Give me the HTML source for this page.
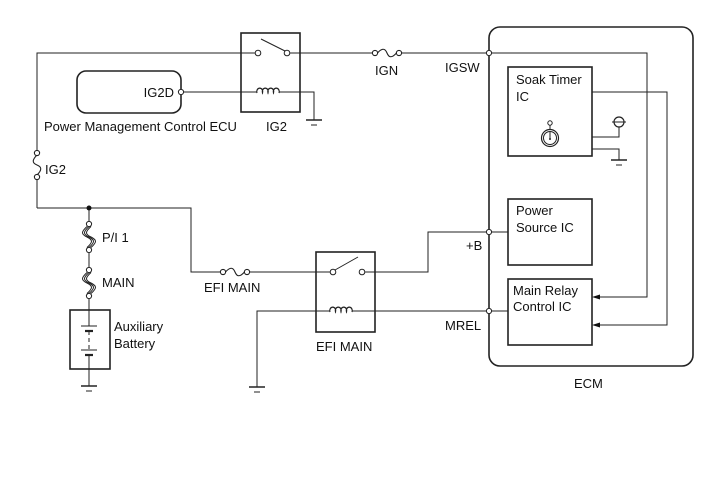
<!DOCTYPE html>
<html><head><meta charset="utf-8"><style>
html,body{margin:0;padding:0;background:#fff;}
svg{display:block;}
text{font-family:"Liberation Sans",Arial,sans-serif;font-size:13px;fill:#111;}
</style></head><body>
<svg width="713" height="481" viewBox="0 0 713 481" xmlns="http://www.w3.org/2000/svg">
<defs>
<g id="gnd" stroke="#222" stroke-width="1" fill="none">
<line x1="-8" y1="0" x2="8" y2="0" stroke-width="1.5"/>
<line x1="-3" y1="5" x2="3" y2="5"/>
</g>
<g id="fuse" stroke="#222" fill="#fff" stroke-width="1.1">
<path d="M2.5,0 C7,-5 10,-5 12,0 C14,5 17,5 21.5,0" fill="none"/>
<circle cx="0" cy="0" r="2.6"/>
<circle cx="24" cy="0" r="2.6"/>
</g>
<g id="vfuse" stroke="#222" fill="#fff" stroke-width="1">
<path d="M0,2.5 C-6,8 -6,10 0,13 C6,16 6,18 0,23.5" fill="none"/>
<path d="M2,2.5 C-4,8 -4,10 2,13 C8,16 8,18 2,23.5" fill="none"/>
<path d="M-2,2.5 C-8,8 -8,10 -2,13 C4,16 4,18 -2,23.5" fill="none"/>
<circle cx="0" cy="0" r="2.6"/>
<circle cx="0" cy="26" r="2.6"/>
</g>
<g id="coil" stroke="#222" fill="none" stroke-width="1.2">
<path d="M-11,1 a3,3.5 0 1 1 5.5,0 a3,3.5 0 1 1 5.5,0 a3,3.5 0 1 1 5.5,0 a3,3.5 0 1 1 5.5,0"/>
</g>
</defs>

<g stroke="#222" stroke-width="1" fill="none">
<polyline points="37,208 37,179.5"/>
<polyline points="37,150.5 37,53 255.5,53"/>
<line x1="289.5" y1="53" x2="373" y2="53"/>
<line x1="399" y1="53" x2="486.5" y2="53"/>
<polyline points="491.5,53 647,53 647,297 597,297"/>
<rect x="241" y="33" width="59" height="79" stroke-width="1.6"/>
<line x1="261" y1="39" x2="285" y2="51"/>
<polyline points="183.5,92 257,92"/>
<polyline points="279,92 314,92 314,120"/>
<rect x="77" y="71" width="104" height="42" rx="9" stroke-width="1.6"/>
<polyline points="37,208 191,208 191,272 221,272"/>
<line x1="89" y1="208" x2="89" y2="222"/>
<line x1="89" y1="252" x2="89" y2="268"/>
<line x1="89" y1="298" x2="89" y2="326"/>
<line x1="89" y1="355" x2="89" y2="386"/>
<rect x="70" y="310" width="40" height="59" stroke-width="1.6"/>
<line x1="81" y1="326" x2="97" y2="326"/>
<line x1="85" y1="331" x2="93" y2="331" stroke-width="2.2"/>
<line x1="89" y1="331" x2="89" y2="350" stroke-dasharray="4,3"/>
<line x1="81" y1="350" x2="97" y2="350"/>
<line x1="85" y1="355" x2="93" y2="355" stroke-width="2.2"/>
<line x1="249" y1="272" x2="331" y2="272"/>
<rect x="316" y="252" width="59" height="80" stroke-width="1.6"/>
<line x1="335" y1="270" x2="358" y2="257"/>
<polyline points="364.5,272 428,272 428,232 486.5,232"/>
<line x1="491.5" y1="232" x2="508" y2="232"/>
<polyline points="257,387 257,311 330,311"/>
<line x1="352" y1="311" x2="486.5" y2="311"/>
<line x1="491.5" y1="311" x2="508" y2="311"/>
<rect x="489" y="27" width="204" height="339" rx="11" stroke-width="1.6"/>
<rect x="508" y="67" width="84" height="89" stroke-width="1.6"/>
<rect x="508" y="199" width="84" height="66" stroke-width="1.6"/>
<rect x="508" y="279" width="84" height="66" stroke-width="1.6"/>
<polyline points="592,92 667,92 667,325 597,325"/>
<polyline points="592,137 619,137 619,127"/>
<polyline points="592,149 619,149 619,160"/>
<circle cx="550" cy="138" r="8.5" stroke-width="1.2"/>
<circle cx="550" cy="138" r="6.5"/>
<line x1="550" y1="129.5" x2="550" y2="125"/>
<circle cx="550" cy="123" r="2.2"/>
<line x1="550" y1="132" x2="550" y2="139"/>
</g>
<circle cx="550" cy="139" r="1" fill="#222"/>
<circle cx="619" cy="122" r="5" fill="#fff" stroke="#222" stroke-width="1.2"/>
<line x1="612" y1="122" x2="626" y2="122" stroke="#222"/>
<polygon points="592,297 600,294.5 600,299.5" fill="#111"/>
<polygon points="592,325 600,322.5 600,327.5" fill="#111"/>
<use href="#gnd" x="314" y="120"/>
<use href="#gnd" x="89" y="386"/>
<use href="#gnd" x="257" y="387"/>
<use href="#gnd" x="619" y="160"/>
<use href="#fuse" x="375" y="53"/>
<use href="#fuse" x="223" y="272"/>
<g stroke="#222" fill="#fff" stroke-width="1.1">
<path d="M37,155 C32,160 32,163 37,165 C42,167 42,170 37,175" fill="none"/>
<circle cx="37" cy="153" r="2.6"/><circle cx="37" cy="177" r="2.6"/>
</g>
<use href="#vfuse" x="89" y="224"/>
<use href="#vfuse" x="89" y="270"/>
<use href="#coil" x="268" y="92"/>
<use href="#coil" x="341" y="311"/>
<g fill="#fff" stroke="#222" stroke-width="1">
<circle cx="258" cy="53" r="2.8"/><circle cx="287" cy="53" r="2.8"/>
<circle cx="333" cy="272" r="2.8"/><circle cx="362" cy="272" r="2.8"/>
<circle cx="181" cy="92" r="2.6"/>
<circle cx="489" cy="53" r="2.6"/>
<circle cx="489" cy="232" r="2.6"/>
<circle cx="489" cy="311" r="2.6"/>
</g>
<circle cx="89" cy="208" r="2.5" fill="#111"/>
<text x="174" y="97" text-anchor="end">IG2D</text>
<text x="44" y="131">Power Management Control ECU</text>
<text x="266" y="131">IG2</text>
<text x="45" y="174">IG2</text>
<text x="375" y="75">IGN</text>
<text x="445" y="72">IGSW</text>
<text x="516" y="84">Soak Timer</text>
<text x="516" y="101">IC</text>
<text x="516" y="215">Power</text>
<text x="516" y="232">Source IC</text>
<text x="513" y="295">Main Relay</text>
<text x="513" y="311">Control IC</text>
<text x="466" y="250">+B</text>
<text x="445" y="330">MREL</text>
<text x="574" y="388">ECM</text>
<text x="102" y="242">P/I 1</text>
<text x="102" y="287">MAIN</text>
<text x="114" y="331">Auxiliary</text>
<text x="114" y="348">Battery</text>
<text x="204" y="292">EFI MAIN</text>
<text x="316" y="351">EFI MAIN</text>
</svg>
</body></html>
